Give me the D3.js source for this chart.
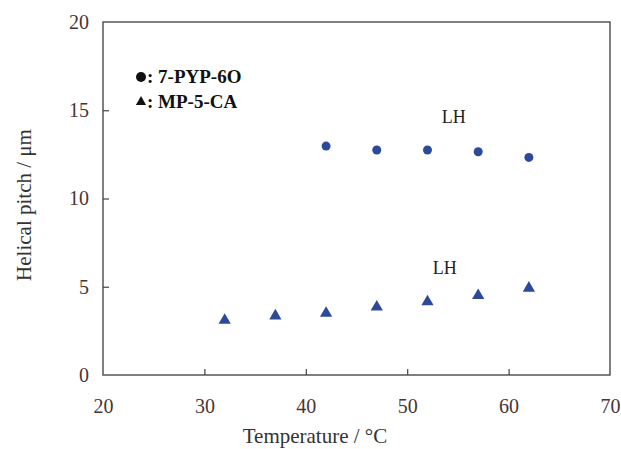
<!DOCTYPE html>
<html>
<head>
<meta charset="utf-8">
<script src="https://cdn.jsdelivr.net/npm/d3@7"></script>
<style>
  body { margin: 0; background: #fff; }
  text { font-family: "Liberation Serif", "Times New Roman", serif; }
</style>
</head>
<body>
<div id="chart"></div>
<script>
// chart size
const width = 621;
const height = 449;
const margin = { top: 22, right: 11, bottom: 74, left: 103 };

// data
const pypTemps = [42, 47, 52, 57, 62];
const pypPitch = [12.97, 12.75, 12.75, 12.65, 12.33];
const mpTemps = [32, 37, 42, 47, 52, 57, 62];
const mpPitch = [3.1, 3.35, 3.5, 3.85, 4.15, 4.5, 4.92];
const xTicks = [20, 30, 40, 50, 60, 70];
const yTicks = [0, 5, 10, 15, 20];
const legendLabels = ["7-PYP-6O", "MP-5-CA"];
const lhLabels = [
    { t: 54.6, p: 14.6 },
    { t: 53.7, p: 6.06 }
];

const x = d3.scaleLinear().domain([20, 70]).range([margin.left, width - margin.right]);
const y = d3.scaleLinear().domain([0, 20]).range([height - margin.bottom, margin.top]);

const svg = d3.select("#chart")
    .append("svg")
    .attr("width", width)
    .attr("height", height);

// frame
svg.append("rect")
    .attr("x", x(20))
    .attr("y", y(20))
    .attr("width", x(70) - x(20))
    .attr("height", y(0) - y(20))
    .attr("fill", "none")
    .attr("stroke", "#555")
    .attr("stroke-width", 1.5);

// axes with inward ticks
const xAxis = svg.append("g")
    .attr("transform", `translate(0,${y(0)})`)
    .call(d3.axisBottom(x).tickValues(xTicks).tickSize(-6).tickPadding(24).tickFormat(d3.format("d")));

const yAxis = svg.append("g")
    .attr("transform", `translate(${x(20)},0)`)
    .call(d3.axisLeft(y).tickValues(yTicks).tickSize(-6).tickPadding(14).tickFormat(d3.format("d")));

[xAxis, yAxis].forEach(ax => {
    ax.select(".domain").remove();
    ax.selectAll(".tick line").attr("stroke", "#444").attr("stroke-width", 1.2);
    ax.selectAll(".tick text")
        .attr("fill", "#4a3434")
        .style("font-size", "20px")
        .style("font-family", "Liberation Serif, serif");
});
// end ticks sit on the frame, hide them
xAxis.selectAll(".tick").filter(d => d === 20 || d === 70).select("line").remove();
yAxis.selectAll(".tick").filter(d => d === 0 || d === 20).select("line").remove();

// axis titles
svg.append("text")
    .attr("x", 315)
    .attr("y", 443)
    .attr("text-anchor", "middle")
    .attr("fill", "#333")
    .style("font-size", "21px")
    .text("Temperature / °C");

svg.append("text")
    .attr("transform", `translate(31,205) rotate(-90)`)
    .attr("text-anchor", "middle")
    .attr("fill", "#333")
    .style("font-size", "21px")
    .text("Helical pitch / μm");

const markColor = "#2d4a9a";

// circles
svg.append("g")
    .selectAll("circle")
    .data(pypTemps)
    .join("circle")
    .attr("cx", d => x(d))
    .attr("cy", (d, i) => y(pypPitch[i]))
    .attr("r", 4.5)
    .attr("fill", markColor);

// triangles
const tri = d3.symbol().type(d3.symbolTriangle).size(65);
svg.append("g")
    .selectAll("path")
    .data(mpTemps)
    .join("path")
    .attr("d", tri)
    .attr("transform", (d, i) => `translate(${x(d)},${y(mpPitch[i])})`)
    .attr("fill", markColor);

// LH labels
svg.append("g")
    .selectAll("text")
    .data(lhLabels)
    .join("text")
    .attr("x", d => x(d.t))
    .attr("y", d => y(d.p) + 6)
    .attr("text-anchor", "middle")
    .attr("fill", "#222")
    .style("font-size", "18px")
    .text("LH");

// legend
const legend = svg.append("g").attr("transform", "translate(135,83)");
legend.append("circle").attr("cx", 6).attr("cy", -6).attr("r", 5).attr("fill", "#111");
legend.append("path")
    .attr("d", d3.symbol().type(d3.symbolTriangle).size(45))
    .attr("transform", "translate(6,19)")
    .attr("fill", "#111");
legend.selectAll("text")
    .data(legendLabels)
    .join("text")
    .attr("x", 12)
    .attr("y", (d, i) => i * 25)
    .attr("fill", "#111")
    .style("font-size", "19px")
    .style("font-weight", "bold")
    .text(d => ": " + d);
</script>
</body>
</html>
